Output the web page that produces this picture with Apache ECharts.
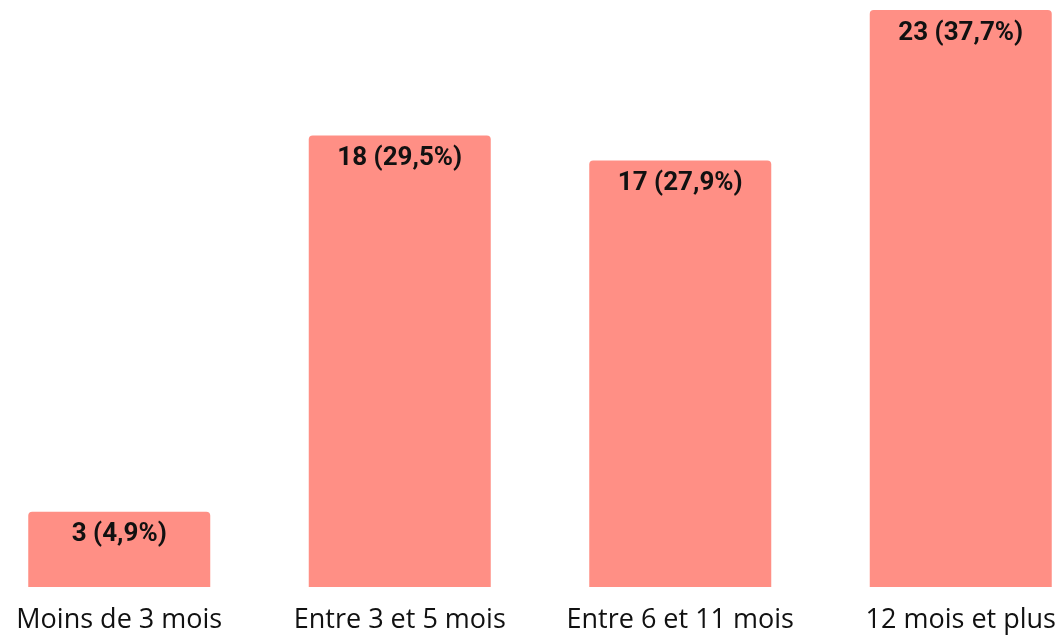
<!DOCTYPE html>
<html>
<head>
<meta charset="utf-8">
<script src="https://cdn.jsdelivr.net/npm/echarts@6/dist/echarts.min.js"></script>
<style>
  html, body { margin: 0; padding: 0; background: #fff; }
  #chart { width: 1061px; height: 636px; }
</style>
</head>
<body>
<div id="chart"></div>
<script>
const categories = ["Moins de 3 mois", "Entre 3 et 5 mois", "Entre 6 et 11 mois", "12 mois et plus"];
const counts = [3, 18, 17, 23];
const percents = ["4,9", "29,5", "27,9", "37,7"];

const chart = echarts.init(document.getElementById("chart"));

const option = {
  animation: false,
  grid: {
    left: -21,
    right: -40,
    top: 10,
    bottom: 49,
    outerBoundsMode: "none",
    containLabel: false
  },
  xAxis: {
    type: "category",
    data: categories,
    axisLine: { show: false },
    axisTick: { show: false },
    axisLabel: {
      margin: 20,
      fontSize: 27,
      fontFamily: "Open Sans",
      color: "#111",
      interval: 0
    }
  },
  yAxis: {
    type: "value",
    min: 0,
    max: 23,
    show: false,
    splitLine: { show: false }
  },
  series: [
    {
      type: "bar",
      data: counts,
      barWidth: 182,
      itemStyle: {
        color: "#FF8F85",
        borderRadius: [4, 4, 0, 0]
      },
      label: {
        show: true,
        position: "insideTop",
        distance: 10,
        fontFamily: "Roboto",
        fontWeight: "bold",
        fontSize: 26,
        color: "#111",
        formatter: (p) => p.value + " (" + percents[p.dataIndex] + "%)"
      }
    }
  ]
};

option && chart.setOption(option);
</script>
</body>
</html>
